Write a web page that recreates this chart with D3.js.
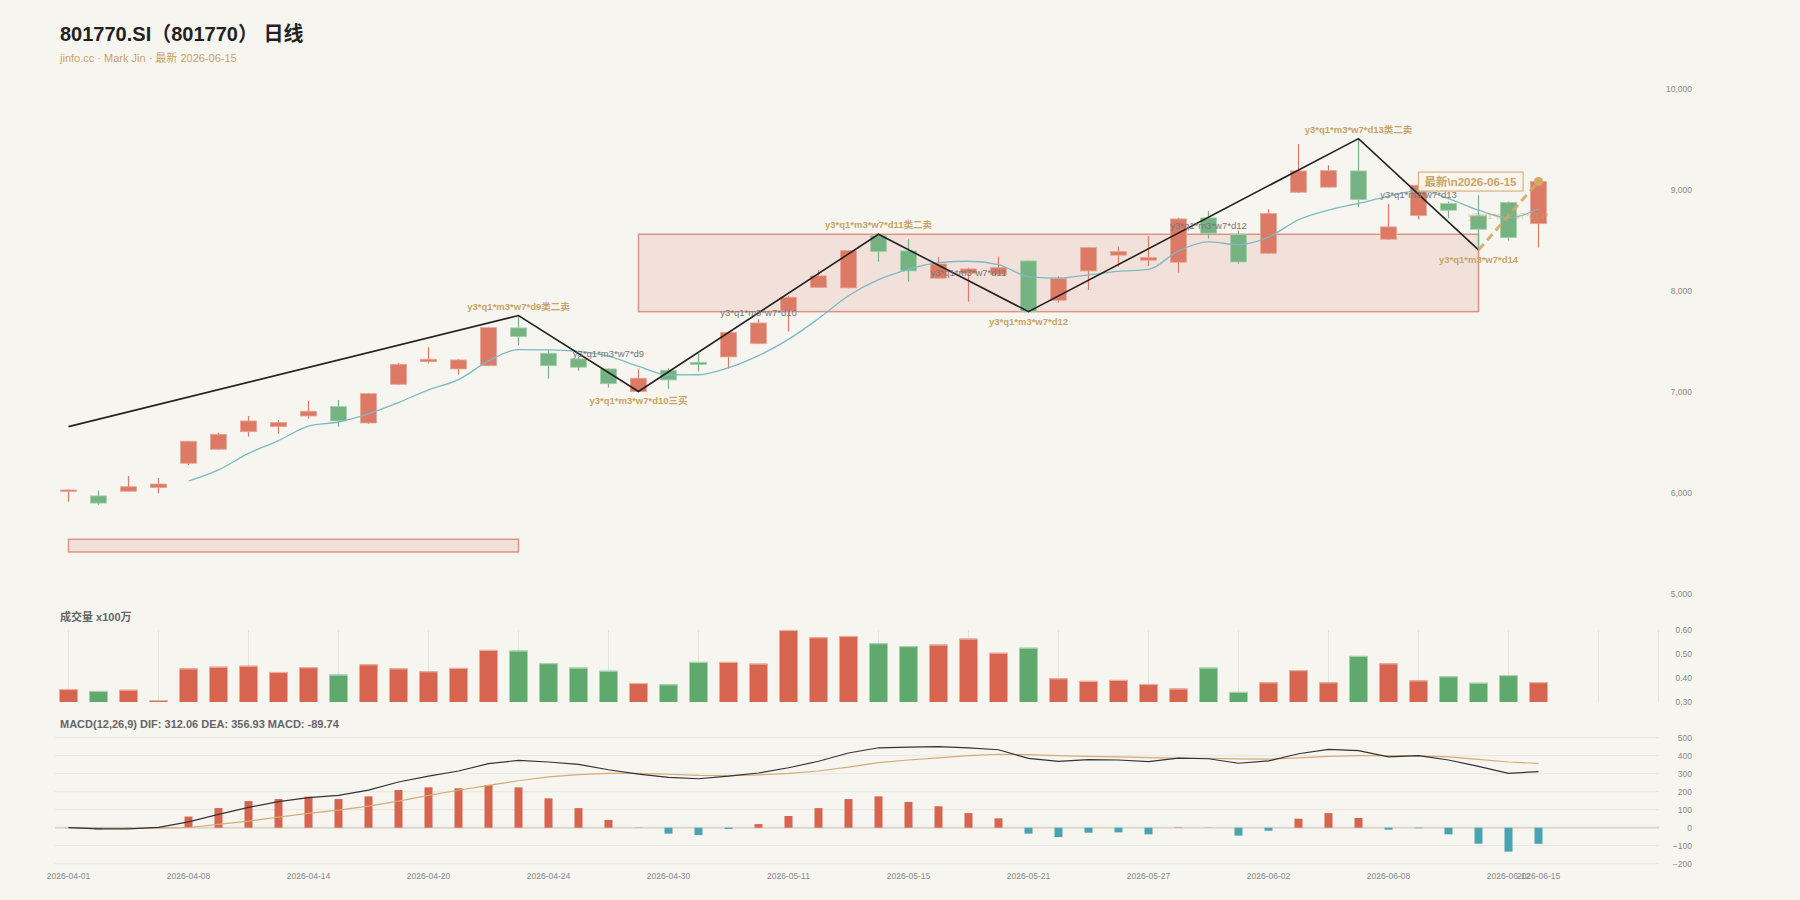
<!DOCTYPE html>
<html><head><meta charset="utf-8">
<script src="https://cdn.jsdelivr.net/npm/d3@7/dist/d3.min.js"></script>
<style>
html,body{margin:0;padding:0;background:#f7f5f0;}
svg{display:block;font-family:"Liberation Sans",Arial,"Noto Sans CJK SC",sans-serif;}
</style></head>
<body><svg id="c" width="1800" height="900"></svg>
<script>
const dates = ["2026-04-01","2026-04-02","2026-04-03","2026-04-07","2026-04-08","2026-04-09","2026-04-10","2026-04-13","2026-04-14","2026-04-15","2026-04-16","2026-04-17","2026-04-20","2026-04-21","2026-04-22","2026-04-23","2026-04-24","2026-04-27","2026-04-28","2026-04-29","2026-04-30","2026-05-06","2026-05-07","2026-05-08","2026-05-11","2026-05-12","2026-05-13","2026-05-14","2026-05-15","2026-05-18","2026-05-19","2026-05-20","2026-05-21","2026-05-22","2026-05-25","2026-05-26","2026-05-27","2026-05-28","2026-05-29","2026-06-01","2026-06-02","2026-06-03","2026-06-04","2026-06-05","2026-06-08","2026-06-09","2026-06-10","2026-06-11","2026-06-12","2026-06-15"];
const open  = [6010,5966,6012,6048,6289,6428,6602,6652,6757,6850,6688,7071,7295,7223,7255,7629,7378,7322,7223,6998,7210,7289,7342,7473,7797,8028,8025,8540,8391,8121,8170,8157,8292,7903,8193,8349,8299,8279,8718,8553,8368,8972,9022,9183,8507,8741,8860,8738,8870,8661];
const high  = [6028,6018,6163,6144,6510,6590,6757,6718,6906,6916,6985,7280,7438,7320,7640,7751,7418,7345,7230,7220,7230,7378,7590,7715,7946,8203,8400,8556,8507,8329,8225,8335,8295,8140,8430,8434,8540,8720,8787,8592,8804,9450,9239,9503,8856,9062,8880,8943,8880,9085];
const low   = [5909,5879,6010,5992,6272,6425,6553,6582,6731,6652,6680,7065,7279,7166,7250,7460,7127,7206,7038,6998,7025,7196,7226,7470,7592,8025,8020,8285,8087,8115,7889,8150,7790,7879,8005,8236,8243,8176,8513,8265,8360,8965,9020,8824,8500,8705,8715,8401,8493,8424];
const close = [6025,5895,6057,6084,6507,6576,6708,6692,6804,6708,6978,7269,7319,7312,7632,7543,7255,7240,7077,7131,7114,7266,7586,7678,7933,8144,8394,8384,8193,8262,8213,8226,7790,8117,8424,8384,8325,8708,8566,8282,8761,9183,9186,8899,8629,9042,8794,8606,8523,9078];
const ma5   = [null,null,null,null,6113.6,6223.8,6386.4,6513.4,6657.4,6697.6,6778,6890.2,7015.6,7117.2,7302,7415,7412.2,7396.4,7349.4,7249.2,7163.4,7165.6,7234.8,7355,7515.4,7721.4,7947,8106.6,8209.6,8275.4,8289.2,8255.6,8136.8,8121.6,8154,8188.2,8208,8391.6,8481.4,8453,8528.4,8700,8795.6,8862.2,8931.6,8987.8,8910,8794,8718.8,8808.6];
const volume = [0.354,0.346,0.351,0.308,0.440,0.447,0.451,0.425,0.445,0.414,0.457,0.440,0.428,0.442,0.517,0.514,0.462,0.443,0.430,0.379,0.374,0.467,0.467,0.460,0.600,0.570,0.575,0.545,0.533,0.539,0.564,0.505,0.526,0.399,0.388,0.392,0.375,0.356,0.443,0.342,0.382,0.433,0.382,0.492,0.461,0.390,0.407,0.380,0.412,0.383];
const dif  = [0,-7,-6,2,32,74,113,145,167,180,209,254,287,315,356,374,365,352,322,298,280,272,286,304,333,369,415,444,448,450,444,433,385,369,378,376,367,387,383,358,371,411,435,428,394,400,376,341,302,312.06];
const dea  = [0,-2,-3,-2,1,19,37,59,80,98,120,148,180,208,235,261,282,295,302,302,297,291,289,293,302,315,337,362,376,388,400,408,406,400,396,393,389,387,385,382,381,388,396,400,400,399,393,380,365,356.93];
const macdHist = [1,-10,-5,4,62,109,148,159,172,159,174,209,224,219,237,224,163,109,43,1,-33,-41,-7,20,65,109,159,174,143,119,81,52,-33,-52,-28,-26,-37,2,-1,-44,-17,50,81,54,-11,-3,-37,-89,-133,-89.74];

// zigzag pivots (index, value)
const zigIdx = [0,15,19,27,32,43,47];
const zigVal = [6652,7751,7000,8556,7790,9503,8401];
// pivot annotations
const pivotIdx  = [15,19,27,32,43,47];
const pivotVal  = [7751,7000,8556,7790,9503,8401];
const pivotSide = ["top","bottom","top","bottom","top","bottom"];
const pivotText = ["y3*q1*m3*w7*d9类二卖","y3*q1*m3*w7*d10三买","y3*q1*m3*w7*d11类二卖","y3*q1*m3*w7*d12","y3*q1*m3*w7*d13类二卖","y3*q1*m3*w7*d14"];
// segment labels
const segIdx  = [18,23,30,38,45];
const segVal  = [7375,7778,8173,8646,8952];
const segText = ["y3*q1*m3*w7*d9","y3*q1*m3*w7*d10","y3*q1*m3*w7*d11","y3*q1*m3*w7*d12","y3*q1*m3*w7*d13"];
const pendIdx = [47,49];
const pendVal = [8401,9078];
const pendLabelIdx = 48, pendLabelVal = 8740, pendText = "y3*q1*m3*w7*d14*";
// pivot zones [startIdx, endIdx, low, high]
const zoneStart = [0,19], zoneEnd = [15,47], zoneLow = [5411,7790], zoneHigh = [5537,8556];
const priceTicks = [5000,6000,7000,8000,9000,10000];
const volTicks = [0.30,0.40,0.50,0.60];
const macdTicks = [-200,-100,0,100,200,300,400,500];
const labelEvery = 4;

const svg = d3.select("#c");
const RED="#d6644e", GREEN="#5ea96b", CRED="#dc7a66", CGREEN="#76b382", CYAN="#4aa3b3", GOLD="#c9a466";

const x = d3.scaleLinear().domain([0,53]).range([68.5,1658.5]);
const y = d3.scaleLinear().domain([5000,10000]).range([593.5,88.4]);
const yv = d3.scaleLinear().domain([0.3,0.6]).range([702,630]);
const ym = d3.scaleLinear().domain([-200,500]).range([863.7,737.7]);
const fmt = d3.format(",");

// Title
svg.append("text").attr("x",60).attr("y",41).attr("font-size",20).attr("font-weight","bold").attr("fill","#222").text("801770.SI（801770） 日线");
svg.append("text").attr("x",60).attr("y",62).attr("font-size",11).attr("fill",GOLD).text("jinfo.cc · Mark Jin · 最新 2026-06-15");

// price axis labels
const ax = svg.append("g").attr("transform","translate(1692,0)");
ax.call(d3.axisRight(y).tickValues(priceTicks).tickFormat(fmt).tickSize(0)).call(g=>g.select(".domain").remove());
ax.selectAll("text").attr("text-anchor","end").attr("x",0).attr("fill","#888").attr("font-size",8.5).attr("font-family","Liberation Sans, Arial, sans-serif");

// zones
const zones = d3.range(zoneStart.length);
svg.append("g").selectAll("rect").data(zones).join("rect")
  .attr("x",i=>x(zoneStart[i])).attr("width",i=>x(zoneEnd[i])-x(zoneStart[i]))
  .attr("y",i=>y(zoneHigh[i])).attr("height",i=>y(zoneLow[i])-y(zoneHigh[i]))
  .attr("fill","rgba(222,130,110,0.17)").attr("stroke","rgba(214,100,78,0.65)").attr("stroke-width",1.5);

// candles
const idx = d3.range(dates.length);
const cg = svg.append("g");
cg.selectAll("line").data(idx).join("line")
  .attr("x1",i=>x(i)).attr("x2",i=>x(i)).attr("y1",i=>y(high[i])).attr("y2",i=>y(low[i]))
  .attr("stroke",i=>close[i]>=open[i]?CRED:CGREEN).attr("stroke-width",1.2);
cg.selectAll("rect").data(idx).join("rect")
  .attr("x",i=>x(i)-8).attr("width",16)
  .attr("y",i=>y(Math.max(open[i],close[i])))
  .attr("height",i=>Math.max(1.5,Math.abs(y(open[i])-y(close[i]))))
  .attr("fill",i=>close[i]>=open[i]?CRED:CGREEN)
  .attr("stroke",i=>close[i]>=open[i]?"#e8a595":"#a3cfab").attr("stroke-width",0.8);

// MA5
svg.append("path").datum(idx.filter(i=>ma5[i]!=null))
  .attr("d",d3.line().x(i=>x(i)).y(i=>y(ma5[i])).curve(d3.curveMonotoneX))
  .attr("fill","none").attr("stroke","#7dbac6").attr("stroke-width",1.3);

// zigzag
svg.append("path").datum(d3.range(zigIdx.length))
  .attr("d",d3.line().x(k=>x(zigIdx[k])).y(k=>y(zigVal[k])))
  .attr("fill","none").attr("stroke","#222").attr("stroke-width",1.6);

// pending dashed
svg.append("path").datum([0,1])
  .attr("d",d3.line().x(k=>x(pendIdx[k])).y(k=>y(pendVal[k])))
  .attr("fill","none").attr("stroke","#d2a967").attr("stroke-width",3).attr("stroke-dasharray","8,5").attr("opacity",0.9);
svg.append("circle").attr("cx",x(pendIdx[1])).attr("cy",y(pendVal[1])).attr("r",4.5).attr("fill","#d2a967");

// segment labels
svg.append("g").selectAll("text").data(d3.range(segIdx.length)).join("text")
  .attr("x",k=>x(segIdx[k])).attr("y",k=>y(segVal[k])).attr("dy","0.35em")
  .attr("text-anchor","middle").attr("font-size",9.5).attr("fill","#777").text(k=>segText[k]);
svg.append("text").attr("x",x(pendLabelIdx)).attr("y",y(pendLabelVal)).attr("dy","0.35em")
  .attr("text-anchor","middle").attr("font-size",9.5).attr("fill",GOLD).attr("opacity",0.55).text(pendText);

// pivot labels
svg.append("g").selectAll("text").data(d3.range(pivotIdx.length)).join("text")
  .attr("x",k=>x(pivotIdx[k])).attr("y",k=>pivotSide[k]==="top"?y(pivotVal[k])-6:y(pivotVal[k])+13)
  .attr("text-anchor","middle").attr("font-size",9.5).attr("font-weight","bold").attr("fill",GOLD).text(k=>pivotText[k]);

// latest box
const lx = x(pendIdx[1]), ly = y(pendVal[1]);
const lg = svg.append("g");
const lt = lg.append("text").attr("x",lx-22).attr("y",ly).attr("dy","0.36em").attr("text-anchor","end")
  .attr("font-size",11.5).attr("font-weight","bold").attr("fill",GOLD).text("最新\\n2026-06-15");
const bb = lt.node().getBBox();
lg.insert("rect","text").attr("x",bb.x-6).attr("y",ly-9.5).attr("width",bb.width+12).attr("height",19)
  .attr("fill","rgba(250,246,236,0.9)").attr("stroke","#d6b57c").attr("stroke-width",1.2);

// Volume
svg.append("text").attr("x",60).attr("y",621).attr("font-size",11).attr("font-weight","bold").attr("fill","#666").text("成交量 x100万");
const vgrid = d3.range(0,52,3).concat([53]);
svg.append("g").selectAll("line").data(vgrid).join("line")
  .attr("x1",i=>x(i)).attr("x2",i=>x(i)).attr("y1",630).attr("y2",702).attr("stroke","#e6e3dc").attr("stroke-width",1);
const vg = svg.append("g");
vg.selectAll("rect").data(idx).join("rect")
  .attr("x",i=>x(i)-9).attr("width",18).attr("y",i=>yv(volume[i])).attr("height",i=>yv(0.3)-yv(volume[i]))
  .attr("fill",i=>close[i]>=open[i]?RED:GREEN);
vg.selectAll("line").data(idx).join("line")
  .attr("x1",i=>x(i)-9).attr("x2",i=>x(i)+9).attr("y1",i=>yv(volume[i])+0.5).attr("y2",i=>yv(volume[i])+0.5)
  .attr("stroke",i=>close[i]>=open[i]?"#eab0a2":"#a9d2b0").attr("stroke-width",1.2);
const axv = svg.append("g").attr("transform","translate(1692,0)");
axv.call(d3.axisRight(yv).tickValues(volTicks).tickFormat(d3.format(".2f")).tickSize(0)).call(g=>g.select(".domain").remove());
axv.selectAll("text").attr("text-anchor","end").attr("x",0).attr("fill","#888").attr("font-size",8.5).attr("font-family","Liberation Sans, Arial, sans-serif");

// MACD
svg.append("text").attr("x",60).attr("y",728).attr("font-size",11).attr("font-weight","bold").attr("fill","#666")
  .text("MACD(12,26,9) DIF: 312.06 DEA: 356.93 MACD: -89.74");
svg.append("g").selectAll("line").data(macdTicks).join("line")
  .attr("x1",55).attr("x2",1659).attr("y1",d=>ym(d)).attr("y2",d=>ym(d))
  .attr("stroke",d=>d===0?"#dcd8d0":"#e8e5df").attr("stroke-width",d=>d===0?2:1);
svg.append("g").selectAll("rect").data(idx).join("rect")
  .attr("x",i=>x(i)-4).attr("width",8)
  .attr("y",i=>Math.min(ym(0),ym(macdHist[i]))).attr("height",i=>Math.abs(ym(macdHist[i])-ym(0)))
  .attr("fill",i=>macdHist[i]>=0?RED:CYAN);
svg.append("path").datum(idx).attr("d",d3.line().x(i=>x(i)).y(i=>ym(dea[i])))
  .attr("fill","none").attr("stroke","#d4ad73").attr("stroke-width",1.2);
svg.append("path").datum(idx).attr("d",d3.line().x(i=>x(i)).y(i=>ym(dif[i])))
  .attr("fill","none").attr("stroke","#333").attr("stroke-width",1.2);
const axm = svg.append("g").attr("transform","translate(1692,0)");
axm.call(d3.axisRight(ym).tickValues(macdTicks).tickSize(0)).call(g=>g.select(".domain").remove());
axm.selectAll("text").attr("text-anchor","end").attr("x",0).attr("fill","#888").attr("font-size",8.5).attr("font-family","Liberation Sans, Arial, sans-serif");

// x labels
const xl = idx.filter(i=>i%labelEvery===0 || i===dates.length-1);
svg.append("g").selectAll("text").data(xl).join("text")
  .attr("x",i=>x(i)).attr("y",879).attr("text-anchor","middle").attr("font-size",8.5).attr("fill","#888").text(i=>dates[i]);
</script></body></html>
